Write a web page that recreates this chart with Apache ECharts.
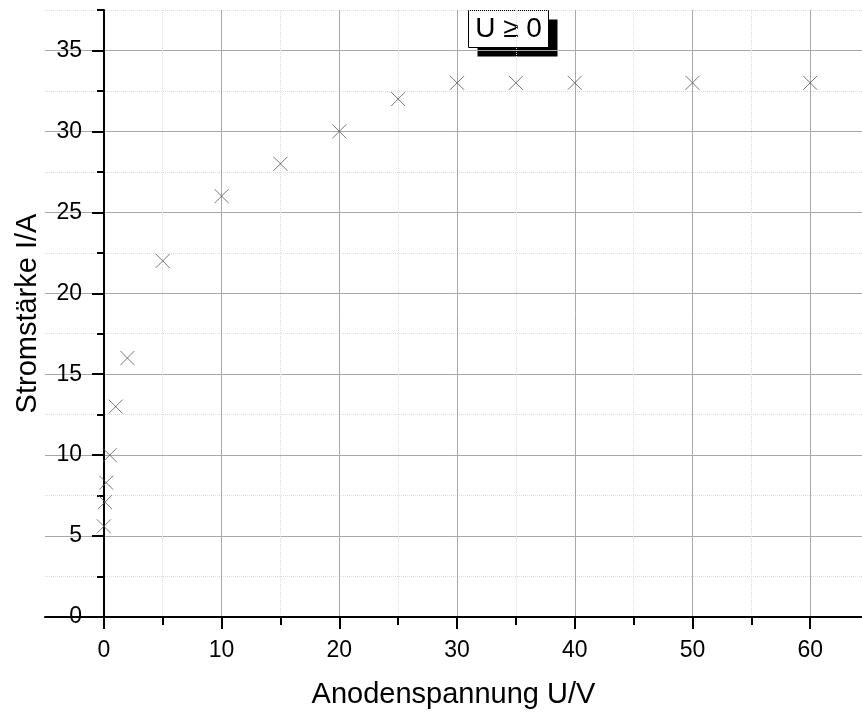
<!DOCTYPE html>
<html>
<head>
<meta charset="utf-8">
<script src="https://cdn.jsdelivr.net/npm/echarts@6/dist/echarts.min.js"></script>
<style>
  html, body { margin: 0; padding: 0; background: #fff; }
  #chart { width: 862px; height: 715px; }
</style>
</head>
<body>
<div id="chart"></div>
<script>
// Anodenspannung U/V gegen Stromstärke I/A
var voltage = [0, 0.1, 0.2, 0.5, 1, 2, 5, 10, 15, 20, 25, 30, 35, 40, 50, 60];
var current = [5.6, 7.1, 8.3, 10, 13, 16, 22, 26, 28, 30, 32, 33, 33, 33, 33, 33];
var xMajor = [0, 10, 20, 30, 40, 50, 60];
var xMinor = [5, 15, 25, 35, 45, 55];
var yMajor = [0, 5, 10, 15, 20, 25, 30, 35];
var yMinor = [2.5, 7.5, 12.5, 17.5, 22.5, 27.5, 32.5, 37.5];
var legendText = 'U \u2265 0';

var points = voltage.map(function (u, i) { return [u, current[i]]; });

var myChart = echarts.init(document.getElementById('chart'));

var font = 'Liberation Sans, Arial, sans-serif';
var black = { color: '#000', width: 2 };
// y axis sits at U = 0, i.e. 59 px right of the grid's left edge (U = -5)
var yShift = -59;

option = {
    animation: false,
    grid: { left: 45, right: 0, top: 10, bottom: 98, containLabel: false, outerBoundsMode: 'none' },
    xAxis: [
        {
            type: 'value', min: -5, max: 64.4, interval: 5,
            name: 'Anodenspannung U/V',
            nameLocation: 'middle',
            nameGap: 63,
            nameTextStyle: { fontFamily: font, fontSize: 29, color: '#000' },
            axisLine: { show: true, lineStyle: black },
            axisTick: { show: true, length: 12, lineStyle: black, customValues: xMajor },
            axisLabel: { fontFamily: font, fontSize: 23, color: '#000', margin: 22, customValues: xMajor },
            splitLine: { show: true, lineStyle: { color: '#a8a8a8', width: 1 } }
        },
        {
            type: 'value', min: -5, max: 64.4, position: 'bottom',
            axisLine: { show: false },
            axisTick: { show: true, length: 8, lineStyle: black, customValues: xMinor },
            axisLabel: { show: false, customValues: xMinor },
            splitLine: { show: true, lineStyle: { color: '#dcdcdc', width: 1, type: 'dotted' } }
        }
    ],
    yAxis: [
        {
            type: 'value', min: 0, max: 37.5, interval: 5, offset: yShift,
            name: 'Stromstärke I/A',
            nameLocation: 'middle',
            nameGap: 62,
            nameTextStyle: { fontFamily: font, fontSize: 29, color: '#000' },
            axisLine: { show: true, onZero: false, lineStyle: black },
            axisTick: { show: true, length: 12, lineStyle: black, customValues: yMajor },
            axisLabel: { fontFamily: font, fontSize: 23, color: '#000', margin: 22, customValues: yMajor },
            splitLine: { show: true, lineStyle: { color: '#a8a8a8', width: 1 } }
        },
        {
            type: 'value', min: 0, max: 37.5, position: 'left', offset: yShift,
            axisLine: { show: false, onZero: false },
            axisTick: { show: true, length: 7, lineStyle: black, customValues: yMinor },
            axisLabel: { show: false, customValues: yMinor },
            splitLine: { show: true, lineStyle: { color: '#dcdcdc', width: 1, type: 'dotted' } }
        }
    ],
    graphic: [
        {
            type: 'group',
            left: 468,
            top: 10,
            z: 100,
            children: [
                { type: 'rect', shape: { x: 9, y: 9, width: 80, height: 37 }, style: { fill: '#000' } },
                { type: 'rect', shape: { x: 0, y: 0, width: 80, height: 37 }, style: { fill: '#fff', stroke: '#000', lineWidth: 1 } },
                {
                    type: 'text', x: 40, y: 19,
                    style: { text: legendText, font: '28px ' + font, fill: '#000', align: 'center', verticalAlign: 'middle' }
                }
            ]
        }
    ],
    series: [
        {
            type: 'scatter',
            data: points,
            symbol: 'path://M0,0L10,10M10,0L0,10',
            symbolSize: 14,
            itemStyle: { color: 'rgba(0,0,0,0)', borderColor: '#555', borderWidth: 1 }
        }
    ]
};

myChart.setOption(option, true);
</script>
</body>
</html>
